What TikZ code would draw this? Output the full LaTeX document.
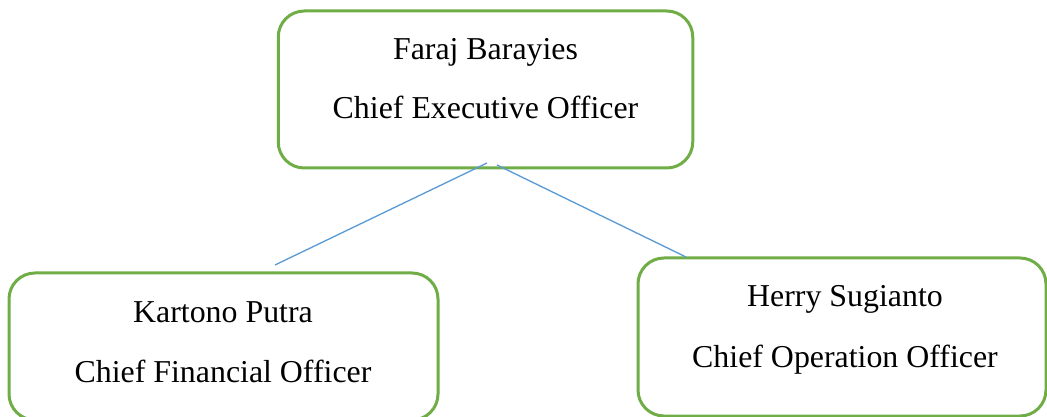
\documentclass[tikz,border=0pt]{standalone}
\usepackage{fontspec}
\setmainfont{Liberation Serif}
\definecolor{boxgreen}{HTML}{70AD47}
\definecolor{lineblue}{HTML}{5B9BD5}
\begin{document}
\begin{tikzpicture}[x=0.75pt,y=-0.75pt,
  orgbox/.style={draw=boxgreen,line width=2.25pt,rounded corners=19.5pt,inner sep=0pt},
  orgtext/.style={font=\fontsize{23.9}{28}\selectfont,anchor=base,inner sep=0pt},
  link/.style={draw=lineblue,line width=1pt}]
\useasboundingbox (0,0) rectangle (1047,417);
\clip (0,0) rectangle (1047,417);
% boxes
\node[orgbox,minimum width=414.5*0.75pt,minimum height=157*0.75pt] (ceo) at (485.5,89.5) {};
\node[orgbox,minimum width=429*0.75pt,minimum height=147*0.75pt] (cfo) at (223.5,346.5) {};
\node[orgbox,minimum width=408*0.75pt,minimum height=158*0.75pt] (coo) at (842,337) {};
% texts
\node[orgtext] (ceoname) at (485.5,60) {Faraj Barayies};
\node[orgtext] (ceorole) at (485.5,119) {Chief Executive Officer};
\node[orgtext] (cfoname) at (223,322) {Kartono Putra};
\node[orgtext] (cforole) at (223,382) {Chief Financial Officer};
\node[orgtext] (cooname) at (845,306) {Herry Sugianto};
\node[orgtext] (coorole) at (845,368) {Chief Operation Officer};
% connectors
\coordinate (ceoL) at (487,163);
\coordinate (ceoR) at (497,165);
\coordinate (cfoT) at (275,265);
\coordinate (cooT) at (686,257);
\draw[link] (ceoL) -- (cfoT);
\draw[link] (ceoR) -- (cooT);
\end{tikzpicture}
\end{document}
